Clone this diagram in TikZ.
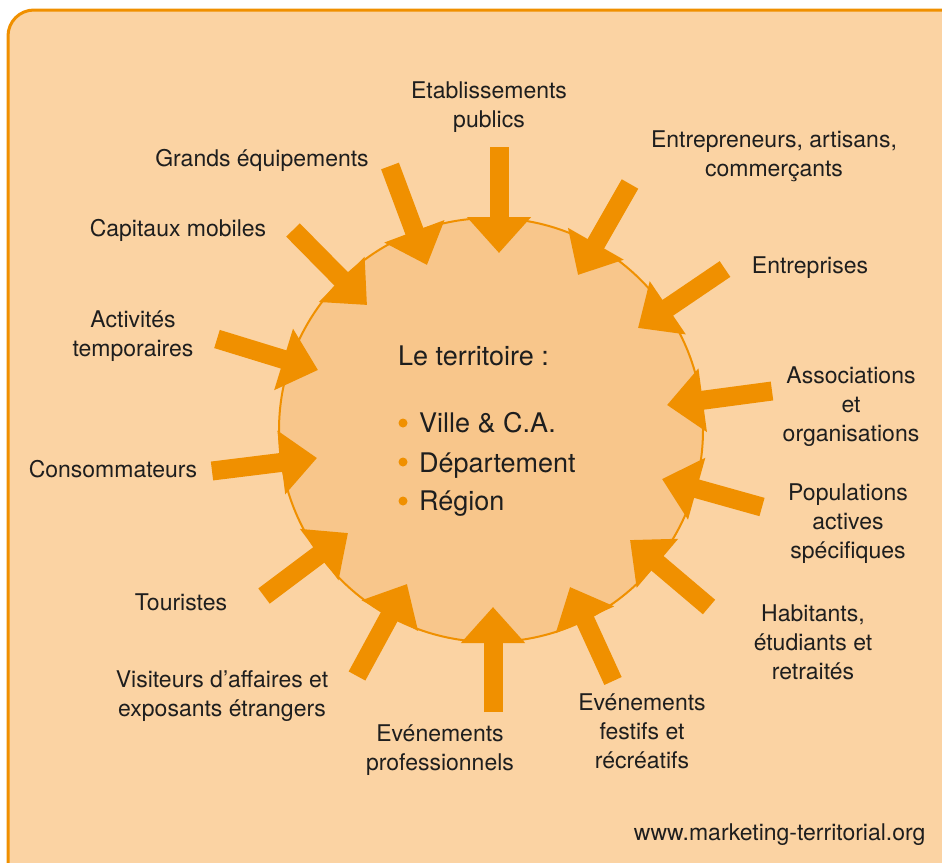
\documentclass[tikz,border=0pt]{standalone}
\usepackage{fontspec}
\setmainfont{TeX Gyre Heros}
\usetikzlibrary{arrows.meta}
\definecolor{fondpeche}{HTML}{FBD3A3}
\definecolor{fondcercle}{HTML}{F8C68B}
\definecolor{orangemt}{HTML}{F09000}
\definecolor{texte}{HTML}{1E1E1E}
\tikzset{
  fleche/.style={line width=19pt,orangemt,-{Triangle[width=62pt,length=36pt]}},
  etiquette/.style={align=center,text=texte,font=\fontsize{23}{29}\selectfont},
  centre/.style={text=texte,font=\fontsize{27}{32}\selectfont,inner sep=0pt},
}
\begin{document}
\begin{tikzpicture}[x=1pt,y=-1pt]
\useasboundingbox (0,0) rectangle (942,862);
\clip (0,0) rectangle (942,862);
% cadre
\draw[line width=3pt,orangemt,fill=fondpeche,rounded corners=26pt] (8,10) rectangle (990,910);
% le territoire
\node[circle,draw=orangemt,line width=2pt,fill=fondcercle,minimum size=424pt,inner sep=0pt] (terr) at (491,430) {};
\node[centre,anchor=base west] (titre) at (398,365) {Le territoire :};
\node[centre,anchor=base west] (ville) at (419,432) {Ville \& C.A.};
\node[centre,anchor=base west] (dept) at (419,472) {Département};
\node[centre,anchor=base west] (region) at (419,510) {Région};
\fill[orangemt] (403,423) circle[radius=4.5];
\fill[orangemt] (403,462) circle[radius=4.5];
\fill[orangemt] (403,501) circle[radius=4.5];
% fleches : queue q.. et pointe p..
\coordinate (q1) at (499,147);  \coordinate (p1) at (499,253);
\coordinate (q2) at (390,166);  \coordinate (p2) at (427,265);
\coordinate (q3) at (293,230);  \coordinate (p3) at (367,305);
\coordinate (q4) at (217,339);  \coordinate (p4) at (318,370);
\coordinate (q5) at (212,471);  \coordinate (p5) at (317,458);
\coordinate (q6) at (264,596);  \coordinate (p6) at (348,533);
\coordinate (q7) at (357,676);  \coordinate (p7) at (407,584);
\coordinate (q8) at (493,712);  \coordinate (p8) at (493,607);
\coordinate (q9) at (613,681);  \coordinate (p9) at (570,587);
\coordinate (q10) at (709,607); \coordinate (p10) at (630,540);
\coordinate (q11) at (762,507); \coordinate (p11) at (662,479);
\coordinate (q12) at (772,391); \coordinate (p12) at (667,405);
\coordinate (q13) at (725,269); \coordinate (p13) at (638,328);
\coordinate (q14) at (630,184); \coordinate (p14) at (578,275);
\draw[fleche] (q1) -- (p1);
\draw[fleche] (q2) -- (p2);
\draw[fleche] (q3) -- (p3);
\draw[fleche] (q4) -- (p4);
\draw[fleche] (q5) -- (p5);
\draw[fleche] (q6) -- (p6);
\draw[fleche] (q7) -- (p7);
\draw[fleche] (q8) -- (p8);
\draw[fleche] (q9) -- (p9);
\draw[fleche] (q10) -- (p10);
\draw[fleche] (q11) -- (p11);
\draw[fleche] (q12) -- (p12);
\draw[fleche] (q13) -- (p13);
\draw[fleche] (q14) -- (p14);
% acteurs
\node[etiquette] (etab) at (489,107) {Etablissements\\publics};
\node[etiquette] (equip) at (262,160) {Grands équipements};
\node[etiquette] (capit) at (178,230) {Capitaux mobiles};
\node[etiquette] (activ) at (133,336) {Activités\\temporaires};
\node[etiquette] (conso) at (113,469) {Consommateurs};
\node[etiquette] (tour) at (181,602) {Touristes};
\node[etiquette] (visit) at (222,696) {Visiteurs d’affaires et\\exposants étrangers};
\node[etiquette] (evpro) at (440,750) {Evénements\\professionnels};
\node[etiquette] (evfest) at (642,731) {Evénements\\festifs et\\récréatifs};
\node[etiquette] (habit) at (813,642) {Habitants,\\étudiants et\\retraités};
\node[etiquette] (popul) at (848,524) {Populations\\actives\\spécifiques};
\node[etiquette] (assoc) at (851,407) {Associations\\et\\organisations};
\node[etiquette] (entr) at (810,268) {Entreprises};
\node[etiquette] (artis) at (774,156) {Entrepreneurs, artisans,\\commerçants};
\node[etiquette,anchor=east] (site) at (929,835) {www.marketing-territorial.org};
\end{tikzpicture}
\end{document}
